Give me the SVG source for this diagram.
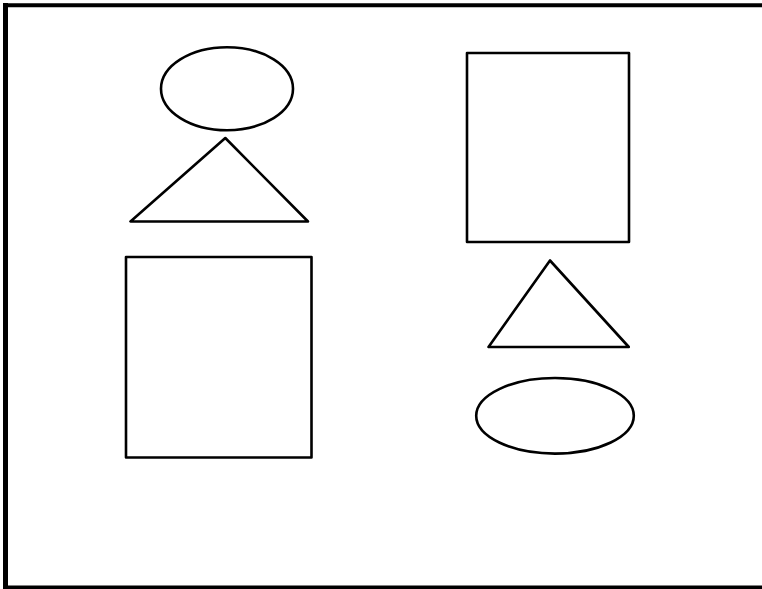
<svg xmlns="http://www.w3.org/2000/svg" width="762" height="589" viewBox="0 0 762 589">
<style>
.s{fill:none;stroke:#000;stroke-width:2.6;stroke-linejoin:round}
.f{fill:none;stroke:#000}
</style>
<rect width="762" height="589" fill="#fff"/>
<g id="frame">
<line class="f" x1="3" y1="5.2" x2="762" y2="5.2" stroke-width="4"/>
<line class="f" x1="5.5" y1="3" x2="5.5" y2="589" stroke-width="5"/>
<line class="f" x1="3" y1="587.3" x2="762" y2="587.3" stroke-width="3.5"/>
</g>
<g id="ellipse-left"><ellipse class="s" cx="227" cy="88.7" rx="66" ry="41.5"/></g>
<g id="triangle-left"><polygon class="s" points="225.3,138 130.5,221.5 308,221.5"/></g>
<g id="rect-left"><rect class="s" x="126" y="257" width="185.5" height="200.5"/></g>
<g id="rect-right"><rect class="s" x="467" y="53" width="162" height="189"/></g>
<g id="triangle-right"><polygon class="s" points="550,260.5 488.5,347 628.8,347"/></g>
<g id="ellipse-right"><ellipse class="s" cx="555" cy="415.8" rx="78.8" ry="37.8"/></g>
<g id="connectors"></g>
</svg>
